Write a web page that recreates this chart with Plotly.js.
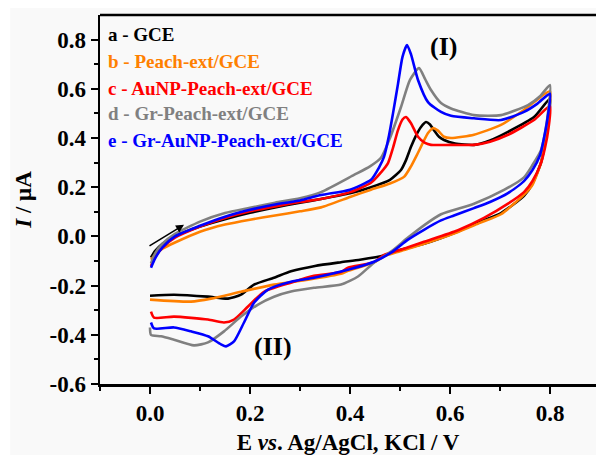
<!DOCTYPE html>
<html>
<head>
<meta charset="utf-8">
<script src="https://cdn.plot.ly/plotly-3.0.1.min.js"></script>
<style>html,body{margin:0;padding:0;background:#fff;}#chart{width:596px;height:455px;}</style>
</head>
<body>
<div id="chart"></div>
<script>
// ---- Data (E in V, I in µA) ----
var seriesLabels = ["a - GCE", "b - Peach-ext/GCE", "c - AuNP-Peach-ext/GCE", "d - Gr-Peach-ext/GCE", "e - Gr-AuNP-Peach-ext/GCE"];

// a - GCE
var aE = [0.002,0.01,0.025,0.05,0.1,0.15,0.2,0.25,0.3,0.342,0.4,0.442,0.48,0.502,0.512,0.522,0.532,0.542,0.552,0.56,0.568,0.578,0.588,0.61,0.648,0.68,0.716,0.768,0.8,
          0.797,0.79,0.782,0.765,0.748,0.702,0.66,0.616,0.548,0.5,0.468,0.42,0.382,0.33,0.282,0.248,0.208,0.182,0.156,0.116,0.048,0.0];
var aI = [-0.086,-0.06,-0.03,0.0,0.04,0.07,0.096,0.118,0.137,0.152,0.175,0.2,0.23,0.27,0.31,0.364,0.41,0.445,0.465,0.455,0.432,0.405,0.392,0.378,0.372,0.39,0.425,0.485,0.56,
          0.48,0.38,0.3,0.215,0.165,0.095,0.06,0.02,-0.03,-0.055,-0.078,-0.095,-0.105,-0.12,-0.142,-0.168,-0.196,-0.237,-0.253,-0.245,-0.237,-0.241];

// b - Peach-ext/GCE
var bE = [0.002,0.01,0.025,0.05,0.1,0.15,0.2,0.25,0.3,0.342,0.4,0.442,0.48,0.508,0.522,0.536,0.556,0.566,0.576,0.588,0.602,0.625,0.648,0.702,0.748,0.8,
          0.797,0.79,0.782,0.765,0.748,0.702,0.66,0.616,0.548,0.5,0.469,0.448,0.396,0.382,0.316,0.248,0.182,0.122,0.082,0.0];
var bI = [-0.095,-0.075,-0.05,-0.025,0.019,0.048,0.068,0.085,0.102,0.118,0.16,0.19,0.215,0.242,0.285,0.34,0.42,0.44,0.43,0.405,0.4,0.405,0.413,0.453,0.514,0.59,
          0.5,0.38,0.3,0.21,0.17,0.09,0.055,0.018,-0.03,-0.06,-0.08,-0.105,-0.14,-0.152,-0.176,-0.196,-0.225,-0.253,-0.265,-0.257];

// c - AuNP-Peach-ext/GCE
var cE = [0.002,0.01,0.025,0.05,0.1,0.15,0.2,0.25,0.3,0.342,0.4,0.442,0.462,0.476,0.486,0.496,0.505,0.512,0.522,0.536,0.55,0.562,0.602,0.648,0.68,0.716,0.768,0.8,
          0.797,0.79,0.782,0.765,0.748,0.716,0.668,0.616,0.548,0.5,0.469,0.448,0.396,0.382,0.328,0.282,0.228,0.196,0.168,0.148,0.116,0.048,0.008,0.002];
var cI = [-0.12,-0.085,-0.045,-0.005,0.04,0.075,0.102,0.122,0.14,0.152,0.18,0.218,0.26,0.298,0.36,0.432,0.475,0.485,0.46,0.405,0.38,0.372,0.372,0.372,0.385,0.413,0.473,0.53,
          0.44,0.36,0.298,0.225,0.18,0.133,0.075,0.025,-0.022,-0.055,-0.074,-0.105,-0.127,-0.145,-0.16,-0.188,-0.225,-0.285,-0.338,-0.35,-0.338,-0.326,-0.33,-0.306];

// d - Gr-Peach-ext/GCE
var dE = [0.002,0.01,0.025,0.05,0.1,0.15,0.2,0.25,0.3,0.342,0.408,0.44,0.462,0.48,0.502,0.52,0.538,0.55,0.562,0.582,0.602,0.648,0.702,0.756,0.78,0.8,
          0.797,0.79,0.782,0.765,0.748,0.708,0.648,0.582,0.548,0.516,0.482,0.448,0.416,0.382,0.328,0.282,0.248,0.216,0.182,0.148,0.116,0.088,0.048,0.022,0.002,0.0];
var dI = [-0.11,-0.07,-0.03,0.01,0.06,0.095,0.116,0.137,0.155,0.18,0.25,0.285,0.32,0.4,0.526,0.636,0.684,0.64,0.595,0.542,0.52,0.493,0.493,0.534,0.57,0.615,
          0.52,0.42,0.35,0.29,0.24,0.189,0.133,0.09,0.045,-0.005,-0.062,-0.107,-0.163,-0.196,-0.209,-0.224,-0.245,-0.277,-0.326,-0.386,-0.431,-0.443,-0.42,-0.406,-0.40,-0.37];

// e - Gr-AuNP-Peach-ext/GCE
var eE = [0.002,0.01,0.025,0.05,0.1,0.15,0.2,0.25,0.3,0.342,0.4,0.442,0.458,0.468,0.478,0.486,0.496,0.505,0.514,0.522,0.536,0.556,0.582,0.602,0.648,0.702,0.748,0.775,0.8,
          0.795,0.788,0.78,0.765,0.748,0.716,0.68,0.648,0.608,0.582,0.548,0.516,0.482,0.448,0.382,0.328,0.282,0.236,0.208,0.188,0.168,0.152,0.142,0.116,0.082,0.048,0.008,0.002];
var eI = [-0.127,-0.09,-0.045,0.0,0.043,0.08,0.108,0.13,0.146,0.168,0.19,0.23,0.28,0.323,0.41,0.5,0.62,0.73,0.778,0.74,0.636,0.546,0.506,0.49,0.48,0.473,0.506,0.54,0.58,
          0.48,0.40,0.33,0.27,0.225,0.176,0.14,0.115,0.085,0.065,0.027,-0.013,-0.066,-0.103,-0.143,-0.168,-0.184,-0.216,-0.27,-0.35,-0.427,-0.447,-0.439,-0.406,-0.386,-0.37,-0.374,-0.35];

// ---- Styles ----
var colors = ["#000000", "#ff8000", "#ff0000", "#808080", "#0000ff"];
var serif = "Liberation Serif, Times New Roman, serif";

var allE = [aE, bE, cE, dE, eE];
var allI = [aI, bI, cI, dI, eI];
var traces = allE.map(function (E, k) {
  return {
    x: E, y: allI[k], type: "scatter", mode: "lines", name: seriesLabels[k],
    line: {color: colors[k], width: 2.6, shape: "spline", smoothing: 0.6},
    showlegend: false, hoverinfo: "skip"
  };
});

var legendY = [0.946, 0.875, 0.802, 0.732, 0.661];
var annotations = seriesLabels.map(function (t, k) {
  return {xref: "paper", yref: "paper", x: 0.012, y: legendY[k], xanchor: "left", yanchor: "middle",
          text: t, showarrow: false, font: {family: serif, size: 19, color: colors[k], weight: "bold"}};
});
annotations.push({xref: "x", yref: "y", x: 0.586, y: 0.774, text: "<b>(I)</b>", showarrow: false,
                  font: {family: serif, size: 26, color: "#000"}});
annotations.push({xref: "x", yref: "y", x: 0.246, y: -0.447, text: "<b>(II)</b>", showarrow: false,
                  font: {family: serif, size: 26, color: "#000"}});
annotations.push({xref: "x", yref: "y", axref: "x", ayref: "y", x: 0.068, y: 0.047, ax: -0.004, ay: -0.042,
                  text: "", showarrow: true, arrowhead: 2, arrowsize: 1, arrowwidth: 1.6, arrowcolor: "#000"});

var tickFont = {family: serif, size: 23, color: "#000", weight: "bold"};
var layout = {
  width: 596, height: 455,
  margin: {l: 100, r: 0, t: 15, b: 71, pad: 0},
  paper_bgcolor: "#ffffff",
  plot_bgcolor: "rgba(0,0,0,0)",
  xaxis: {
    range: [-0.1, 0.892], showgrid: false, zeroline: false,
    showline: true, linecolor: "#000", linewidth: 2.5,
    ticks: "outside", ticklen: 7, tickwidth: 2, tickcolor: "#000",
    tickvals: [0, 0.2, 0.4, 0.6, 0.8], ticktext: ["0.0", "0.2", "0.4", "0.6", "0.8"],
    minor: {tickvals: [-0.1, 0.1, 0.3, 0.5, 0.7], ticks: "outside", ticklen: 4, tickwidth: 2, tickcolor: "#000"},
    tickfont: tickFont,
    title: {text: "<b>E <i>vs</i>. Ag/AgCl, KCl / V</b>", font: {family: serif, size: 23, color: "#000"}, standoff: 20}
  },
  yaxis: {
    range: [-0.6, 0.9], showgrid: false, zeroline: false,
    showline: true, linecolor: "#000", linewidth: 2.5,
    ticks: "outside", ticklen: 7, tickwidth: 2, tickcolor: "#000",
    tickvals: [-0.6, -0.4, -0.2, 0, 0.2, 0.4, 0.6, 0.8], ticktext: ["-0.6", "-0.4", "-0.2", "0.0", "0.2", "0.4", "0.6", "0.8"],
    minor: {tickvals: [-0.5, -0.3, -0.1, 0.1, 0.3, 0.5, 0.7], ticks: "outside", ticklen: 4, tickwidth: 2, tickcolor: "#000"},
    tickfont: tickFont,
    title: {text: "<b><i>I</i> / μA</b>", font: {family: serif, size: 23, color: "#000"}, standoff: 12}
  },
  shapes: [
    {type: "rect", xref: "paper", yref: "paper", x0: -0.181, x1: 1.01, y0: -0.2, y1: 1.019,
     fillcolor: "#f9f9f9", line: {width: 0}, layer: "below"},
    {type: "line", xref: "paper", yref: "paper", x0: 0, x1: 1, y0: 1, y1: 1,
     line: {color: "#000", width: 2.5}}
  ],
  annotations: annotations
};

Plotly.newPlot("chart", traces, layout, {staticPlot: true, displayModeBar: false});
</script>
</body>
</html>
